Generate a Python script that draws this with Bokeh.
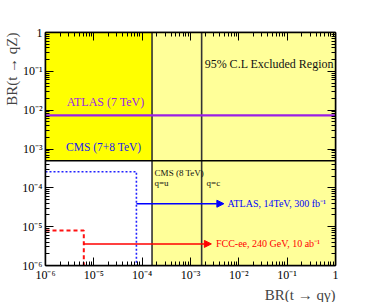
import math
from bokeh.plotting import figure
from bokeh.models import (Range1d, FixedTicker, LogAxis, Label, CustomJSTickFormatter,
                          Arrow, NormalHead, Title)
from bokeh.embed import file_html
from bokeh.resources import INLINE

# ---- data (limits) ----
x_min, x_max = 1e-6, 1.0          # BR(t -> q gamma) range
y_min, y_max = 1e-6, 1.0          # BR(t -> qZ) range
cms8_qu_gamma = 1.6e-4            # CMS 8 TeV, q=u
cms8_qc_gamma = 1.7e-3            # CMS 8 TeV, q=c
cms78_z = 5.0e-4                  # CMS 7+8 TeV
atlas7_z = 7.3e-3                 # ATLAS 7 TeV
atlas14_z = 2.6e-4                # ATLAS 14 TeV, 300 fb-1 (tqZ)
atlas14_gamma = 7.6e-5            # ATLAS 14 TeV (tq gamma)
atlas14_comb = 3.9e-5
atlas14_arrow_end = 4.9e-3
fcc_z = 8.0e-6                    # FCC-ee 240 GeV
fcc_gamma = 6.2e-6
fcc_comb = 3.6e-6
fcc_arrow_end = 2.7e-3
major_ticks = [1e-6, 1e-5, 1e-4, 1e-3, 1e-2, 1e-1, 1.0]
minor_ticks = [k * 10.0 ** e for e in range(-6, 0) for k in range(2, 10)]

FONT = "Liberation Serif"

p = figure(width=372, height=302, x_axis_type="log", y_axis_type="log",
           x_range=Range1d(x_min, x_max), y_range=Range1d(y_min, y_max),
           output_backend="svg", toolbar_location=None,
           min_border_left=45, min_border_right=37, min_border_top=32, min_border_bottom=36)
p.xgrid.visible = False
p.ygrid.visible = False
p.background_fill_color = "white"
p.border_fill_color = "white"
p.outline_line_color = "black"
p.outline_line_width = 1.5

# regions
p.quad(left=[x_min], right=[x_max], bottom=[y_min], top=[y_max], fill_color="#ffff99", line_color=None)
p.quad(left=[x_min], right=[cms8_qu_gamma], bottom=[y_min], top=[cms78_z], fill_color="white", line_color=None)
p.quad(left=[x_min], right=[cms8_qu_gamma], bottom=[cms78_z], top=[y_max], fill_color="#ffff00", line_color=None)

# exclusion lines
p.line([cms8_qu_gamma, cms8_qu_gamma], [y_min, y_max], line_color="#333333", line_width=1.6)
p.line([cms8_qc_gamma, cms8_qc_gamma], [y_min, y_max], line_color="#333333", line_width=1.6)
p.line([x_min, x_max], [cms78_z, cms78_z], line_color="black", line_width=1.6)
p.line([x_min, x_max], [atlas7_z, atlas7_z], line_color="#9a1ee6", line_width=2.2)

# ATLAS 14 TeV
p.line([x_min, atlas14_gamma, atlas14_gamma], [atlas14_z, atlas14_z, y_min],
       line_color="#2222ff", line_width=1.6, line_dash="2 2")
p.add_layout(Arrow(end=NormalHead(size=7, fill_color="#0000ff", line_color="#0000ff"),
                   x_start=atlas14_gamma, y_start=atlas14_comb, x_end=atlas14_arrow_end, y_end=atlas14_comb,
                   line_color="#0000ff", line_width=1.5))
# FCC-ee
p.line([x_min, fcc_gamma, fcc_gamma], [fcc_z, fcc_z, y_min],
       line_color="#ff1111", line_width=2, line_dash="4 3")
p.add_layout(Arrow(end=NormalHead(size=7, fill_color="#ff0000", line_color="#ff0000"),
                   x_start=fcc_gamma, y_start=fcc_comb, x_end=fcc_arrow_end, y_end=fcc_comb,
                   line_color="#ff0000", line_width=1.5))

def lab(x, y, text, color="black", size="11px", align="left"):
    p.add_layout(Label(x=x, y=y, text=text, text_color=color, text_font=FONT,
                       text_font_size=size, text_align=align, text_baseline="middle"))

lab(1.75e-5, 1.58e-2, "ATLAS (7 TeV)", "#9a1ee6", "12px", "center")
lab(1.6e-5, 1.1e-3, "CMS (7+8 TeV)", "#1a1aee", "11.5px", "center")
lab(1.96e-3, 0.158, "95% C.L Excluded Region", "#111111", "12px")
lab(1.81e-4, 2.46e-4, "CMS (8 TeV)", "#111111", "9px")
lab(1.8e-4, 1.32e-4, "q=u", "#111111", "9px")
lab(2.15e-3, 1.32e-4, "q=c", "#111111", "9px")
lab(5.8e-3, atlas14_comb, "ATLAS, 14TeV, 300 fb\u207b\u00b9", "#0000ff", "10px")
lab(3.36e-3, fcc_comb, "FCC-ee, 240 GeV, 10 ab\u207b\u00b9", "#ff0000", "10px")

fmt = CustomJSTickFormatter(code="""
const e = Math.round(Math.log10(tick));
if (e == 0) return "1";
const sup = {"-":"\u207b","0":"\u2070","1":"\u00b9","2":"\u00b2","3":"\u00b3","4":"\u2074","5":"\u2075","6":"\u2076"};
return "10" + String(e).split("").map(c => sup[c]).join("");
""")
blank = CustomJSTickFormatter(code="return '';")

def style(ax, labels=True):
    ax.ticker = FixedTicker(ticks=major_ticks, minor_ticks=minor_ticks)
    ax.formatter = fmt if labels else blank
    ax.major_tick_in = 8
    ax.major_tick_out = 0
    ax.minor_tick_in = 4
    ax.minor_tick_out = 0
    ax.major_tick_line_color = "black"
    ax.minor_tick_line_color = "black"
    ax.axis_line_color = "black"
    ax.axis_line_width = 1.5
    ax.major_label_text_font = FONT
    ax.major_label_text_font_size = "12px"
    ax.major_label_text_color = "black"

style(p.xaxis[0])
style(p.yaxis[0])
p.xaxis[0].major_label_standoff = 2
p.yaxis[0].major_label_standoff = 3

top = LogAxis()
style(top, False)
p.add_layout(top, "above")
right = LogAxis()
style(right, False)
p.add_layout(right, "right")

# axis titles (ROOT-style, aligned to the axis end)
p.add_layout(Title(text="BR(t \u2192 q\u03b3)", align="right", text_font=FONT, text_font_size="15px",
                   text_font_style="normal", standoff=0, offset=0), "below")
p.add_layout(Title(text="BR(t \u2192 qZ)", align="right", text_font=FONT, text_font_size="15px",
                   text_font_style="normal", standoff=0, offset=0), "left")

open("out.html", "w").write(file_html(p, INLINE))
